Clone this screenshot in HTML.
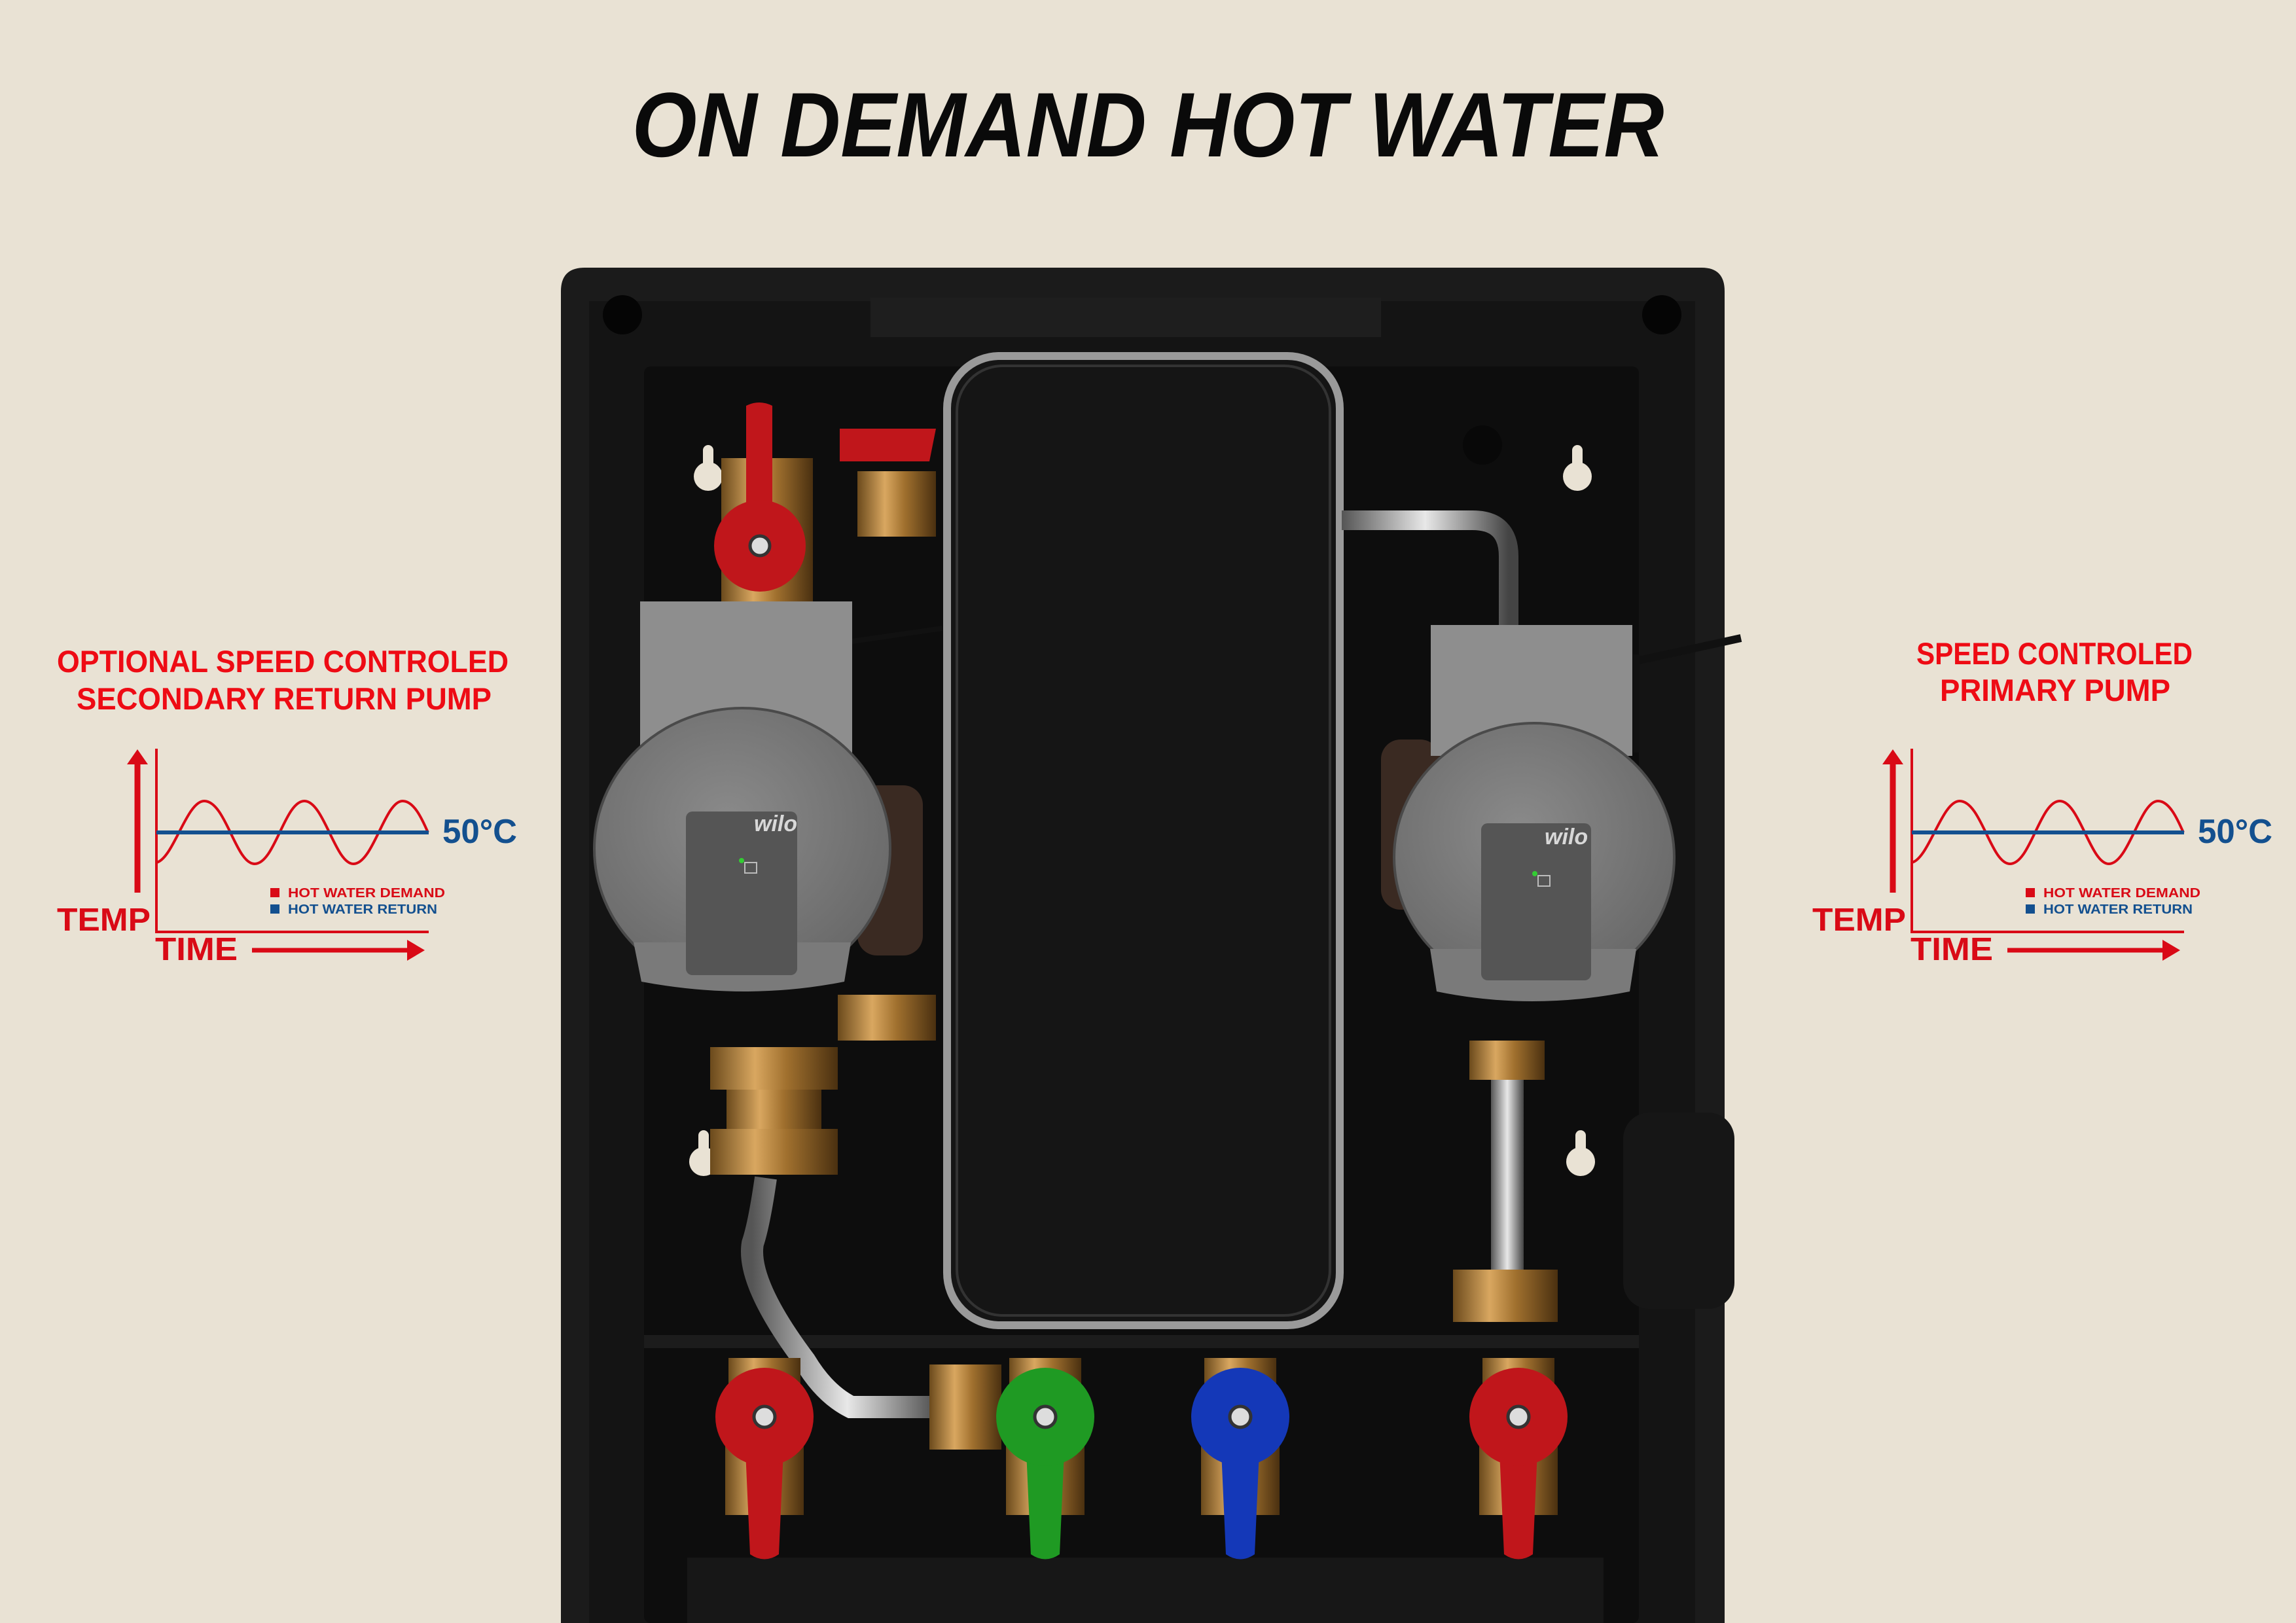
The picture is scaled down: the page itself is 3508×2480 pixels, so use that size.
<!DOCTYPE html>
<html><head><meta charset="utf-8"><style>
html,body{margin:0;padding:0;background:#e9e2d4;}
svg{display:block;}
text{font-family:"Liberation Sans",sans-serif;font-weight:bold;}
</style></head><body>
<svg width="3508" height="2480" viewBox="0 0 3508 2480" xmlns="http://www.w3.org/2000/svg">
<defs>
<linearGradient id="brass" x1="0" x2="1"><stop offset="0" stop-color="#6b4a1c"/><stop offset=".35" stop-color="#d9a760"/><stop offset=".6" stop-color="#a0702e"/><stop offset="1" stop-color="#4a3010"/></linearGradient>
<linearGradient id="steel" x1="0" x2="1"><stop offset="0" stop-color="#555"/><stop offset=".5" stop-color="#e8e8e8"/><stop offset="1" stop-color="#444"/></linearGradient>
<radialGradient id="pumpg" cx=".45" cy=".4" r=".6"><stop offset="0" stop-color="#8a8a8a"/><stop offset="1" stop-color="#6a6a6a"/></radialGradient>
<g id="chart">
  <path d="M210 1364 V1165" stroke="#d90a16" stroke-width="9"/>
  <polygon points="194,1168 226,1168 210,1145" fill="#d90a16"/>
  <path d="M239 1144 V1424 H655" stroke="#d90a16" stroke-width="4" fill="none"/>
  <path d="M239 1318 C265 1312 285 1224 312 1224 C345 1224 360 1320 389 1320 C420 1320 435 1224 465 1224 C495 1224 512 1320 540 1320 C570 1320 588 1224 615 1224 C635 1224 648 1260 654 1272" stroke="#d90a16" stroke-width="4" fill="none"/>
  <path d="M239 1272 H655" stroke="#13508f" stroke-width="6"/>
  <text x="676" y="1288" font-size="52" fill="#13508f" textLength="114" lengthAdjust="spacingAndGlyphs">50°C</text>
  <text x="87" y="1422" font-size="49" fill="#d90a16" textLength="143" lengthAdjust="spacingAndGlyphs">TEMP</text>
  <text x="237" y="1467" font-size="49" fill="#d90a16" textLength="126" lengthAdjust="spacingAndGlyphs">TIME</text>
  <path d="M385 1452 H625" stroke="#d90a16" stroke-width="7"/>
  <polygon points="622,1436 649,1452 622,1468" fill="#d90a16"/>
  <rect x="413" y="1357" width="14" height="14" fill="#d90a16"/>
  <rect x="413" y="1382" width="14" height="14" fill="#13508f"/>
  <text x="440" y="1371" font-size="20" fill="#d90a16" textLength="240" lengthAdjust="spacingAndGlyphs">HOT WATER DEMAND</text>
  <text x="440" y="1396" font-size="20" fill="#13508f" textLength="228" lengthAdjust="spacingAndGlyphs">HOT WATER RETURN</text>
</g>
<g id="valve">
  <rect x="-55" y="-90" width="110" height="80" fill="url(#brass)"/>
  <rect x="-60" y="40" width="120" height="110" fill="url(#brass)"/>
  <path d="M-30 30 L30 30 L22 210 Q0 225 -22 210 Z" fill="currentColor"/>
  <circle r="75" fill="currentColor"/>
  <circle r="16" fill="#ddd" stroke="#333" stroke-width="5"/>
</g>
</defs>

<text x="1754" y="239" font-size="140" font-style="italic" text-anchor="middle" fill="#0a0a0a" textLength="1577" lengthAdjust="spacingAndGlyphs">ON DEMAND HOT WATER</text>

<!-- panel -->
<path d="M857 445 Q857 409 893 409 L2600 409 Q2635 409 2635 445 L2635 2480 L857 2480 Z" fill="#1b1b1b"/>
<rect x="900" y="460" width="1690" height="2020" fill="#141414"/>
<rect x="984" y="560" width="1520" height="1920" rx="10" fill="#0d0d0d"/>
<rect x="1330" y="455" width="780" height="60" fill="#1e1e1e"/>
<circle cx="951" cy="481" r="30" fill="#050505"/>
<circle cx="2539" cy="481" r="30" fill="#050505"/>
<rect x="984" y="2040" width="1520" height="20" fill="#1c1c1c"/>
<rect x="1050" y="2380" width="1400" height="100" fill="#171717"/>
<rect x="2480" y="1700" width="170" height="300" rx="40" fill="#161616"/>
<!-- keyholes -->
<g fill="#e9e2d4">
<circle cx="1082" cy="728" r="22"/><rect x="1074" y="680" width="16" height="48" rx="8"/>
<circle cx="2410" cy="728" r="22"/><rect x="2402" y="680" width="16" height="48" rx="8"/>
<circle cx="1075" cy="1775" r="22"/><rect x="1067" y="1727" width="16" height="48" rx="8"/>
<circle cx="2415" cy="1775" r="22"/><rect x="2407" y="1727" width="16" height="48" rx="8"/>
</g>
<circle cx="2265" cy="680" r="30" fill="#080808"/>

<!-- heat exchanger -->
<rect x="1447" y="544" width="600" height="1481" rx="80" fill="#151515" stroke="#9a9a9a" stroke-width="12"/>
<rect x="1462" y="559" width="570" height="1451" rx="70" fill="none" stroke="#333" stroke-width="4"/>

<!-- right pipe -->
<path d="M2050 795 H2250 Q2305 795 2305 850 V960" stroke="url(#steel)" stroke-width="30" fill="none"/>
<rect x="2278" y="1590" width="50" height="370" fill="url(#steel)"/>
<rect x="2245" y="1590" width="115" height="60" fill="url(#brass)"/>
<rect x="2220" y="1940" width="160" height="80" fill="url(#brass)"/>
<path d="M2500 1010 L2660 975" stroke="#111" stroke-width="12"/>

<!-- left brass + pipes -->
<rect x="1102" y="700" width="140" height="220" fill="url(#brass)"/>
<rect x="1310" y="720" width="120" height="100" fill="url(#brass)"/>
<path d="M1283 655 H1430 L1420 705 H1283 Z" fill="#c0161b"/>
<rect x="1280" y="1520" width="150" height="70" fill="url(#brass)"/>
<rect x="1085" y="1600" width="195" height="65" fill="url(#brass)"/>
<rect x="1110" y="1665" width="145" height="60" fill="url(#brass)"/>
<rect x="1085" y="1725" width="195" height="70" fill="url(#brass)"/>
<path d="M1170 1800 Q1160 1870 1150 1900 Q1140 1960 1230 2080 Q1260 2130 1300 2150 L1440 2150" stroke="url(#steel)" stroke-width="34" fill="none"/>
<rect x="1420" y="2085" width="110" height="130" fill="url(#brass)"/>

<!-- top valve left -->
<path d="M1140 620 Q1160 610 1180 620 L1180 780 L1140 780 Z" fill="#c0161b"/>
<circle cx="1161" cy="834" r="70" fill="#c0161b"/>
<circle cx="1161" cy="834" r="15" fill="#ddd" stroke="#333" stroke-width="5"/>

<!-- left pump -->
<path d="M1302 980 L1440 960" stroke="#111" stroke-width="8"/>
<rect x="1310" y="1200" width="100" height="260" rx="30" fill="#3a2a22"/>
<rect x="978" y="919" width="324" height="240" fill="#8e8e8e"/>
<ellipse cx="1134" cy="1297" rx="226" ry="215" fill="url(#pumpg)" stroke="#4a4a4a" stroke-width="4"/>
<path d="M968 1440 L1300 1440 L1290 1500 Q1140 1530 980 1500 Z" fill="#7a7a7a"/>
<rect x="1048" y="1240" width="170" height="250" rx="10" fill="#555"/>
<text x="1152" y="1270" font-size="34" font-style="italic" fill="#d8d8d8">wilo</text>
<circle cx="1133" cy="1315" r="4" fill="#3c3"/>
<rect x="1138" y="1318" width="18" height="16" fill="none" stroke="#bbb" stroke-width="2"/>

<!-- right pump -->
<rect x="2110" y="1130" width="90" height="260" rx="30" fill="#3a2a22"/>
<rect x="2186" y="955" width="308" height="200" fill="#8e8e8e"/>
<ellipse cx="2344" cy="1310" rx="214" ry="205" fill="url(#pumpg)" stroke="#4a4a4a" stroke-width="4"/>
<path d="M2185 1450 L2500 1450 L2490 1515 Q2340 1545 2195 1515 Z" fill="#7a7a7a"/>
<rect x="2263" y="1258" width="168" height="240" rx="10" fill="#555"/>
<text x="2360" y="1290" font-size="34" font-style="italic" fill="#d8d8d8">wilo</text>
<circle cx="2345" cy="1335" r="4" fill="#3c3"/>
<rect x="2350" y="1338" width="18" height="16" fill="none" stroke="#bbb" stroke-width="2"/>
<path d="M2500 1000 V1150" stroke="#111" stroke-width="10"/>

<!-- bottom valves -->
<use href="#valve" x="1168" y="2165" color="#c0161b"/>
<use href="#valve" x="1597" y="2165" color="#1f9a23"/>
<use href="#valve" x="1895" y="2165" color="#1438b8"/>
<use href="#valve" x="2320" y="2165" color="#c0161b"/>

<!-- charts -->
<use href="#chart"/>
<use href="#chart" x="2682"/>
<text font-size="47" fill="#ee0b14" x="87" y="1027" textLength="690" lengthAdjust="spacingAndGlyphs">OPTIONAL SPEED CONTROLED</text>
<text font-size="47" fill="#ee0b14" x="117" y="1084" textLength="634" lengthAdjust="spacingAndGlyphs">SECONDARY RETURN PUMP</text>
<text font-size="47" fill="#ee0b14" x="2928" y="1015" textLength="422" lengthAdjust="spacingAndGlyphs">SPEED CONTROLED</text>
<text font-size="47" fill="#ee0b14" x="2964" y="1071" textLength="352" lengthAdjust="spacingAndGlyphs">PRIMARY PUMP</text>
</svg>
</body></html>
